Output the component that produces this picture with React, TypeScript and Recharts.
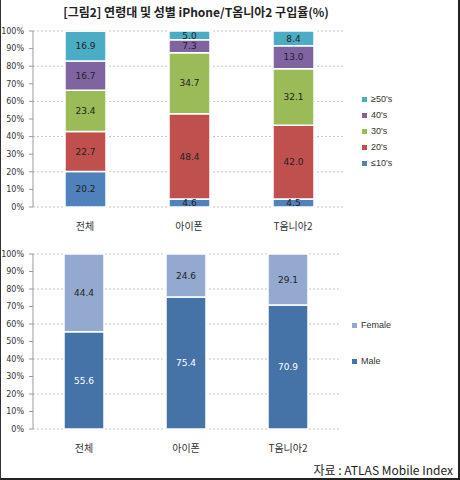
import React from 'react';
import { BarChart, Bar, XAxis, YAxis, CartesianGrid, Legend, LabelList } from 'recharts';

const categories = ['전체', '아이폰', 'T옴니아2'];
const teens = [20.2, 4.6, 4.5];
const twenties = [22.7, 48.4, 42.0];
const thirties = [23.4, 34.7, 32.1];
const forties = [16.7, 7.3, 13.0];
const fifties = [16.9, 5.0, 8.4];
const male = [55.6, 75.4, 70.9];
const female = [44.4, 24.6, 29.1];
const percentTicks = [0, 10, 20, 30, 40, 50, 60, 70, 80, 90, 100];
const edgeTicks = [0, 1, 2, 3];

const ageSeries = [
  { key: 'teens', name: '≤10\'s', color: '#4f81bd' },
  { key: 'twenties', name: '20\'s', color: '#c0504d' },
  { key: 'thirties', name: '30\'s', color: '#9bbb59' },
  { key: 'forties', name: '40\'s', color: '#8064a2' },
  { key: 'fifties', name: '≥50\'s', color: '#4bacc6' },
];
const genderSeries = [
  { key: 'male', name: 'Male', color: '#4572a7', label: '#ffffff' },
  { key: 'female', name: 'Female', color: '#93a9cf', label: '#222222' },
];

const ageData = categories.map((name, i) => ({
  name,
  teens: teens[i],
  twenties: twenties[i],
  thirties: thirties[i],
  forties: forties[i],
  fifties: fifties[i],
}));
const genderData = categories.map((name, i) => ({ name, male: male[i], female: female[i] }));

const numFont = '"DejaVu Sans", Verdana, sans-serif';
const krFont = '"Noto Sans CJK KR", "Noto Sans", sans-serif';
const fmt = (v: any) => Number(v).toFixed(1);

const legendList = (items: { name: string; color: string }[], rowHeight: number) => () => (
  <div style={{ fontFamily: '"Liberation Sans", Arial, sans-serif', fontSize: 9, color: '#333' }}>
    {items.map((it) => (
      <div key={it.name} style={{ height: rowHeight, display: 'flex', alignItems: 'center' }}>
        <span style={{ width: 5, height: 5, background: it.color, marginRight: 4, display: 'inline-block' }} />
        {it.name}
      </div>
    ))}
  </div>
);

const axisParts = (key: string) => [
  <XAxis
    key={key + 'edge'}
    xAxisId="edge"
    type="number"
    domain={[0, 3]}
    ticks={edgeTicks}
    tick={false}
    tickSize={4}
    height={0}
    stroke="#9a9a9a"
  />,
  <XAxis
    key={key + 'cat'}
    xAxisId="cat"
    dataKey="name"
    axisLine={false}
    tickLine={false}
    height={30}
    tickMargin={10}
    tick={{ fontSize: 10, fill: '#333', fontFamily: krFont }}
  />,
  <YAxis
    key={key + 'y'}
    domain={[0, 100]}
    ticks={percentTicks}
    tickFormatter={(v) => `${v}%`}
    width={30}
    tickSize={4}
    tickMargin={5}
    stroke="#9a9a9a"
    tick={{ fontSize: 8, fill: '#333', fontFamily: numFont }}
  />,
  <YAxis key={key + 'r'} yAxisId="r" orientation="right" width={0} tick={false} tickLine={false} stroke="#c8c8c8" />,
];

export default function App() {
  return (
    <div style={{ position: 'relative', width: 460, height: 480, background: '#fff' }}>
      <style>{'body{margin:0}'}</style>
      <div
        style={{
          position: 'absolute',
          left: 0,
          top: 3,
          width: 392,
          textAlign: 'center',
          fontFamily: krFont,
          fontSize: 12,
          fontWeight: 700,
          color: '#222',
        }}
      >
        [그림2] 연령대 및 성별 iPhone/T옴니아2 구입율(%)
      </div>

      <div style={{ position: 'absolute', left: 0, top: 0 }}>
        <BarChart width={460} height={240} data={ageData} margin={{ top: 31, right: 115, bottom: 3, left: 3 }}>
          <CartesianGrid vertical={false} strokeDasharray="2 2" stroke="#c4c4c4" xAxisId="cat" />
          {axisParts('a')}
          {ageSeries.map((s) => (
            <Bar
              key={s.key}
              dataKey={s.key}
              name={s.name}
              stackId="age"
              xAxisId="cat"
              fill={s.color}
              stroke="#ffffff"
              strokeWidth={1.5}
              barSize={41}
              isAnimationActive={false}
            >
              <LabelList dataKey={s.key} position="center" formatter={fmt} fontSize={9} fill="#222" fontFamily={numFont} />
            </Bar>
          ))}
          <Legend
            layout="vertical"
            align="center"
            verticalAlign="middle"
            wrapperStyle={{ left: 362, top: 91, width: 80 }}
            content={legendList([...ageSeries].reverse(), 16)}
          />
        </BarChart>
      </div>

      <div style={{ position: 'absolute', left: 0, top: 240 }}>
        <BarChart width={460} height={240} data={genderData} margin={{ top: 14, right: 121, bottom: 21, left: 3 }}>
          <CartesianGrid vertical={false} strokeDasharray="2 2" stroke="#c4c4c4" xAxisId="cat" />
          {axisParts('g')}
          {genderSeries.map((s) => (
            <Bar
              key={s.key}
              dataKey={s.key}
              name={s.name}
              stackId="gender"
              xAxisId="cat"
              fill={s.color}
              stroke="#ffffff"
              strokeWidth={1.5}
              barSize={40}
              isAnimationActive={false}
            >
              <LabelList dataKey={s.key} position="center" formatter={fmt} fontSize={9} fill={s.label} fontFamily={numFont} />
            </Bar>
          ))}
          <Legend
            layout="vertical"
            align="center"
            verticalAlign="middle"
            wrapperStyle={{ left: 352, top: 67, width: 80 }}
            content={legendList([...genderSeries].reverse(), 36)}
          />
        </BarChart>
      </div>

      <div
        style={{
          position: 'absolute',
          right: 7,
          top: 461,
          fontFamily: krFont,
          fontSize: 12,
          color: '#222',
          whiteSpace: 'nowrap',
        }}
      >
        자료 : ATLAS Mobile Index
      </div>

      <div
        style={{
          position: 'absolute',
          left: 0,
          top: 0,
          width: 460,
          height: 480,
          boxSizing: 'border-box',
          borderLeft: '1px solid #333',
          borderRight: '2px solid #222',
          borderBottom: '2px solid #222',
          pointerEvents: 'none',
        }}
      />
    </div>
  );
}
